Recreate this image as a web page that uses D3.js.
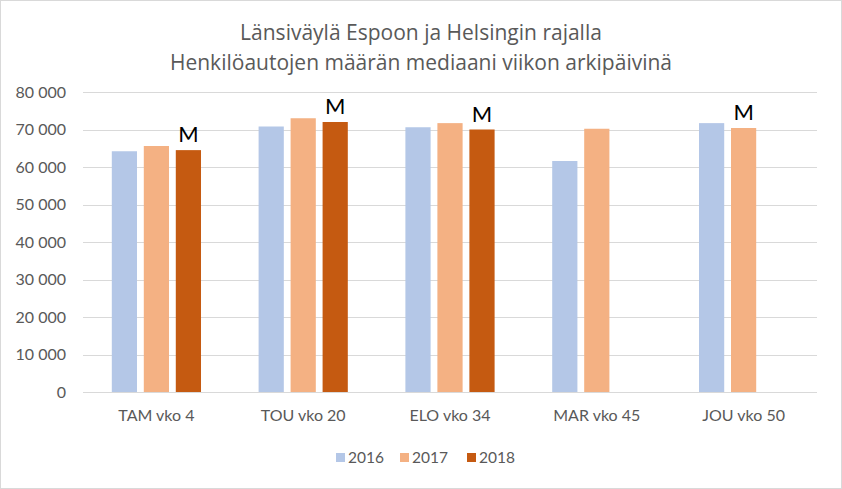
<!DOCTYPE html>
<html>
<head>
<meta charset="utf-8">
<script src="https://cdn.jsdelivr.net/npm/d3@7"></script>
<style>
  html, body { margin: 0; padding: 0; background: #fff; }
  svg { display: block; }
</style>
</head>
<body>
<svg id="chart" width="842" height="489"></svg>
<script>
const titleLines = ["Länsiväylä Espoon ja Helsingin rajalla", "Henkilöautojen määrän mediaani viikon arkipäivinä"];
const categories = ["TAM vko 4", "TOU vko 20", "ELO vko 34", "MAR vko 45", "JOU vko 50"];
const seriesNames = ["2016", "2017", "2018"];
const values2016 = [64200, 70800, 70600, 61600, 71700];
const values2017 = [65600, 73000, 71700, 70200, 70400];
const values2018 = [64500, 72000, 70000, null, null];
const seriesColors = ["#B4C7E7", "#F4B183", "#C55A11"];
const yTicks = [0, 10000, 20000, 30000, 40000, 50000, 60000, 70000, 80000];
const markerLabel = "M";
const markerCategories = ["TAM vko 4", "TOU vko 20", "ELO vko 34", "JOU vko 50"];
const markerSeries = ["2018", "2018", "2018", "2017"];

const seriesValues = [values2016, values2017, values2018];
const svg = d3.select("#chart");
const W = 842, H = 489;
const font = "Lato, 'Open Sans', sans-serif";
const titleFont = "'Open Sans', Lato, sans-serif";

// border
svg.append("rect").attr("x", 0.5).attr("y", 0.5).attr("width", W - 1).attr("height", H - 1)
  .attr("fill", "#fff").attr("stroke", "#D9D9D9");

const plot = { left: 83, right: 817, top: 92, bottom: 392 };

const x = d3.scaleBand().domain(categories).range([plot.left, plot.right]).paddingInner(0).paddingOuter(0);
const xs = d3.scaleBand().domain(seriesNames).range([0, x.bandwidth()]).paddingInner(7 / 33).paddingOuter(0.9);
const y = d3.scaleLinear().domain([0, 80000]).range([plot.bottom, plot.top]);

// title
svg.append("g").selectAll("text").data(titleLines).join("text")
  .attr("x", W / 2).attr("y", (d, i) => 40 + i * 30)
  .attr("text-anchor", "middle")
  .attr("font-family", titleFont).attr("font-size", 21).attr("fill", "#595959")
  .text(d => d);

// grid
svg.append("g").selectAll("line").data(yTicks).join("line")
  .attr("x1", plot.left).attr("x2", plot.right)
  .attr("y1", d => Math.round(y(d)) + 0.5).attr("y2", d => Math.round(y(d)) + 0.5)
  .attr("stroke", "#D9D9D9").attr("stroke-width", 1);

// y axis labels
const fmt = v => d3.format(",")(v).replace(/,/g, " ");
const yAxis = d3.axisLeft(y).tickValues(yTicks).tickSize(0).tickPadding(17).tickFormat(fmt);
const yg = svg.append("g").attr("transform", `translate(${plot.left},0)`).call(yAxis);
yg.select(".domain").remove();
yg.selectAll("text").attr("font-family", font).attr("font-size", 16).attr("fill", "#595959");

// x axis labels
const xAxis = d3.axisBottom(x).tickSize(0).tickPadding(18);
const xg = svg.append("g").attr("transform", `translate(0,${plot.bottom})`).call(xAxis);
xg.select(".domain").remove();
xg.selectAll("text").attr("font-family", font).attr("font-size", 16).attr("fill", "#595959");

// bars
const barData = [];
categories.forEach((c, ci) => {
  seriesNames.forEach((s, si) => {
    const v = seriesValues[si][ci];
    if (v != null) barData.push({ c, s, si, v });
  });
});
svg.append("g").selectAll("rect").data(barData).join("rect")
  .attr("x", d => x(d.c) + xs(d.s))
  .attr("width", xs.bandwidth())
  .attr("y", d => y(d.v))
  .attr("height", d => y(0) - y(d.v))
  .attr("fill", d => seriesColors[d.si]);

// M labels
const markers = markerCategories.map((c, i) => {
  const s = markerSeries[i];
  const si = seriesNames.indexOf(s);
  return { c, s, v: seriesValues[si][categories.indexOf(c)] };
});
svg.append("g").selectAll("text").data(markers).join("text")
  .attr("x", d => x(d.c) + xs(d.s) + xs.bandwidth() / 2)
  .attr("y", d => y(d.v) - 8)
  .attr("text-anchor", "middle")
  .attr("font-family", font).attr("font-size", 22).attr("fill", "#000")
  .text(markerLabel);

// legend
const legendX = [336, 400, 467];
const lg = svg.append("g").selectAll("g").data(seriesNames).join("g")
  .attr("transform", (d, i) => `translate(${legendX[i]},453)`);
lg.append("rect").attr("width", 9).attr("height", 9).attr("fill", (d, i) => seriesColors[i]);
lg.append("text").attr("x", 12).attr("y", 9.5)
  .attr("font-family", font).attr("font-size", 15.5).attr("fill", "#595959").text(d => d);
</script>
</body>
</html>
